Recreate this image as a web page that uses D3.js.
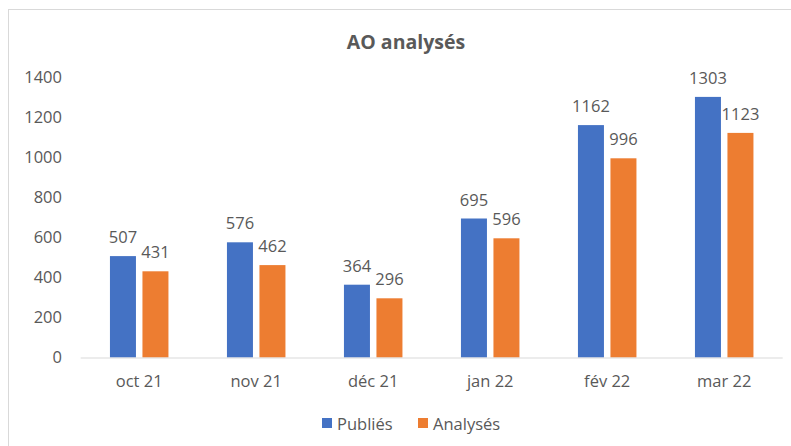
<!DOCTYPE html>
<html><head><meta charset="utf-8">
<script src="https://cdn.jsdelivr.net/npm/d3@7"></script>
<style>
html,body{margin:0;padding:0;background:#fff;}
svg text{font-family:"Open Sans","Noto Sans",sans-serif;fill:#595959;}
</style></head>
<body>
<svg id="c" width="791" height="446"></svg>
<script>
const categories = ["oct 21","nov 21","déc 21","jan 22","fév 22","mar 22"];
const seriesNames = ["Publiés","Analysés"];
const publies = [507,576,364,695,1162,1303];
const analyses = [431,462,296,596,996,1123];
const yTicks = [0,200,400,600,800,1000,1200,1400];
const colors = ["#4472C4","#ED7D31"];
const title = "AO analysés";

const svg = d3.select("#c");
svg.append("rect").attr("x",8.5).attr("y",9.5).attr("width",800).attr("height",460)
  .attr("fill","#fff").attr("stroke","#d9d9d9").attr("stroke-width",1);

const x0 = d3.scaleBand().domain(categories).range([80.7,782.7]).paddingInner(0.5).paddingOuter(0.25);
const x1 = d3.scaleBand().domain(seriesNames).range([0,x0.bandwidth()]).paddingInner(0.2).paddingOuter(0);
const y = d3.scaleLinear().domain([0,1400]).range([357.5,77.5]);

const data = categories.map((c,i)=>({cat:c, vals:[{s:seriesNames[0],v:publies[i]},{s:seriesNames[1],v:analyses[i]}]}));

// title
svg.append("text").attr("x",406).attr("y",49).attr("text-anchor","middle")
  .attr("font-size",19.5).attr("font-weight","bold").text(title);

// y axis labels
const yAxis = d3.axisLeft(y).tickValues(yTicks).tickFormat(d3.format("d")).tickSize(0).tickPadding(0);
const ga = svg.append("g").attr("transform","translate(62,0)").call(yAxis);
ga.select(".domain").remove();
ga.selectAll("text").attr("font-size",16.5).attr("fill","#595959")
  .style("font-family","'Open Sans','Noto Sans',sans-serif");

// bars
const groups = svg.append("g").selectAll("g").data(data).join("g")
  .attr("transform",d=>`translate(${x0(d.cat)},0)`);
groups.selectAll("rect").data(d=>d.vals).join("rect")
  .attr("x",d=>x1(d.s)).attr("width",x1.bandwidth())
  .attr("y",d=>y(d.v)).attr("height",d=>y(0)-y(d.v))
  .attr("fill",(d,i)=>colors[i]);
groups.selectAll("text").data(d=>d.vals).join("text")
  .attr("x",d=>x1(d.s)+x1.bandwidth()/2).attr("y",d=>y(d.v)-13)
  .attr("text-anchor","middle").attr("font-size",16.5).text(d=>d.v);

// baseline + x labels
const xAxis = d3.axisBottom(x0).tickSize(0).tickPadding(0);
const gx = svg.append("g").attr("transform",`translate(0,${y(0)})`).call(xAxis);
gx.select(".domain").attr("stroke","#d9d9d9").attr("d","M80.7,0.5H782.7");
gx.selectAll("text").attr("font-size",16.5).attr("fill","#595959").attr("dy",0).attr("y",29)
  .style("font-family","'Open Sans','Noto Sans',sans-serif");

// legend
const legendX = [322,418];
const lg = svg.append("g").selectAll("g").data(seriesNames).join("g")
  .attr("transform",(d,i)=>`translate(${legendX[i]},418)`);
lg.append("rect").attr("width",10).attr("height",10).attr("fill",(d,i)=>colors[i]);
lg.append("text").attr("x",15).attr("y",5).attr("dominant-baseline","central")
  .attr("font-size",16.5).text(d=>d);
</script>
</body></html>
